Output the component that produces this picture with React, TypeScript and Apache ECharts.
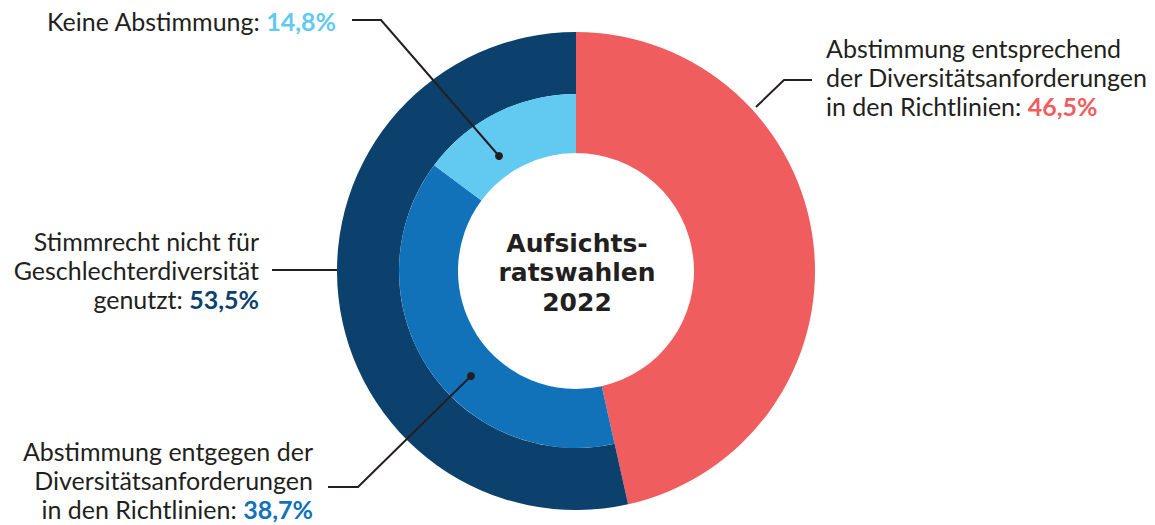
import React, { useEffect, useRef } from "react";
import * as echarts from "echarts";

const categories = [
  "Abstimmung entsprechend der Diversitätsanforderungen in den Richtlinien",
  "Stimmrecht nicht für Geschlechterdiversität genutzt",
  "Abstimmung entgegen der Diversitätsanforderungen in den Richtlinien",
  "Keine Abstimmung",
];
const outerValues = [46.5, 53.5];
const innerValues = [38.7, 14.8];
const colors = ["#F05D5E", "#0B416C", "#1172BA", "#62C9F1"];
const centerTitle = ["Aufsichts-", "ratswahlen", "2022"];

const fmt = (v: number) => v.toFixed(1).replace(".", ",") + "%";

const FONT = "Lato, 'Noto Sans', sans-serif";
const TITLE_FONT = "'DejaVu Sans', Lato, sans-serif";
const TXT = "#231F20";

export default function App() {
  const ref = useRef<HTMLDivElement>(null);
  useEffect(() => {
    if (!ref.current) return;
    const chart = echarts.init(ref.current, null, { renderer: "svg" });
    const center = [576, 271];
    const T = "rgba(0,0,0,0)";
    const base = {
      type: "pie",
      center,
      startAngle: 90,
      clockwise: true,
      silent: true,
      avoidLabelOverlap: false,
      label: { show: false },
      labelLine: { show: false },
      emphasis: { disabled: true },
      itemStyle: { borderWidth: 0 },
      z: 1,
    };
    const label = (x: number, y: number, align: string, lines: string, val: number, color: string) => ({
      type: "text",
      x,
      y,
      z: 100,
      style: {
        text: lines + "{v|" + fmt(val) + "}",
        align,
        verticalAlign: "middle",
        fontSize: 25,
        fontFamily: FONT,
        fill: TXT,
        lineHeight: 29,
        rich: {
          v: { fontSize: 25, fontWeight: "bold", fill: color, fontFamily: FONT, lineHeight: 29 },
        },
      },
    });
    const centerLines = centerTitle.map((t, i) => ({
      type: "text",
      x: 577,
      y: 243 + i * 29.5,
      z: 100,
      style: {
        text: t,
        align: "center",
        verticalAlign: "middle",
        fontSize: 25,
        fontWeight: "bold",
        fontFamily: TITLE_FONT,
        fill: TXT,
      },
    }));
    const line = (points: number[][]) => ({
      type: "polyline",
      z: 100,
      shape: { points },
      style: { stroke: TXT, lineWidth: 2, fill: null },
    });
    const dot = (cx: number, cy: number) => ({
      type: "circle",
      z: 101,
      shape: { cx, cy, r: 4 },
      style: { fill: TXT },
    });
    chart.setOption({
      animation: false,
      series: [
        {
          ...base,
          radius: [118, 239],
          data: [
            { name: categories[0], value: outerValues[0], itemStyle: { color: colors[0] } },
            { name: "rest", value: outerValues[1], itemStyle: { color: T } },
          ],
        },
        {
          ...base,
          radius: [177, 239],
          data: [
            { name: "rest", value: outerValues[0], itemStyle: { color: T } },
            { name: categories[1], value: outerValues[1], itemStyle: { color: colors[1] } },
          ],
        },
        {
          ...base,
          radius: [118, 177],
          data: [
            { name: "rest", value: outerValues[0], itemStyle: { color: T } },
            { name: categories[2], value: innerValues[0], itemStyle: { color: colors[2] } },
            { name: categories[3], value: innerValues[1], itemStyle: { color: colors[3] } },
          ],
        },
      ],
      graphic: [
        ...centerLines,
        label(336, 21, "right", "Keine Abstimmung: ", innerValues[1], colors[3]),
        label(826, 77, "left", "Abstimmung entsprechend\nder Diversitätsanforderungen\nin den Richtlinien: ", outerValues[0], colors[0]),
        label(259, 270, "right", "Stimmrecht nicht für\nGeschlechterdiversität\ngenutzt: ", outerValues[1], colors[1]),
        label(313, 480, "right", "Abstimmung entgegen der\nDiversitätsanforderungen\nin den Richtlinien: ", innerValues[0], colors[2]),
        line([[352, 20], [381, 20], [499, 156]]),
        dot(499, 156),
        line([[812, 80], [784, 80], [756, 107]]),
        line([[272, 270], [337, 270]]),
        line([[328, 487], [358, 487], [471, 376]]),
        dot(471, 376),
      ],
    });
    return () => chart.dispose();
  }, []);
  return (
    <div
      ref={ref}
      style={{ position: "fixed", left: 0, top: 0, width: 1155, height: 525, background: "#fff" }}
    />
  );
}
